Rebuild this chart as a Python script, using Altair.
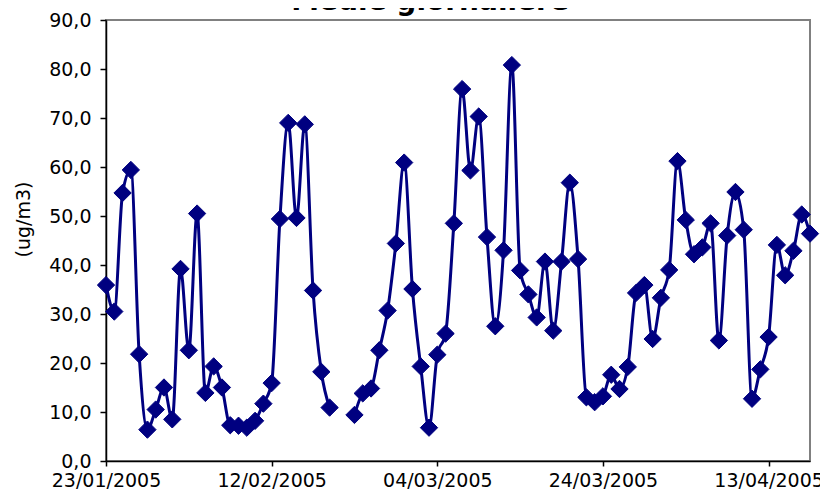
import altair as alt
import pandas as pd

title_text = "Medie giornaliere"
y_title = "(ug/m3)"
start_date = "2005-01-23"
end_date = "2005-04-18"
tick_dates = ["2005-01-23", "2005-02-12", "2005-03-04", "2005-03-24", "2005-04-13"]
y_ticks = [0, 10, 20, 30, 40, 50, 60, 70, 80, 90]

# daily means, 23/01/2005 .. 18/04/2005 (None = missing day)
values = [
    35.9, 30.5, 54.7, 59.4, 21.8, 6.4, 10.5, 15.0, 8.5,          # 23/01-31/01
    39.2, 22.6, 50.5, 13.9, 19.3, 15.0, 7.3, 7.2, 6.8, 8.2,      # 01/02-10/02
    11.7, 15.9, 49.4, 69.0, 49.6, 68.7, 34.8, 18.2, 10.9, None,  # 11/02-20/02
    None, 9.4, 13.8, 14.8, 22.6, 30.7, 44.4, 60.9,               # 21/02-28/02
    35.1, 19.3, 6.8, 21.7, 26.0, 48.5, 75.9, 59.3, 70.3, 45.7,   # 01/03-10/03
    27.5, 43.0, 80.8, 38.9, 34.0, 29.3, 40.7, 26.6, 40.7, 56.8,  # 11/03-20/03
    41.2, 13.0, 12.0, 13.2, 17.6, 14.7, 19.2, 34.3, 35.9, 24.9,  # 21/03-30/03
    33.3,                                                        # 31/03
    39.0, 61.2, 49.2, 42.2, 43.6, 48.5, 24.6, 46.0, 54.9, 47.2,  # 01/04-10/04
    12.7, 18.7, 25.3, 44.1, 37.9, 42.9, 50.3, 46.4,              # 11/04-18/04
]

dates = pd.date_range(start_date, end_date, freq="D").strftime("%Y-%m-%d").tolist()
seg = []
s = 0
for v in values:
    if v is None:
        s += 1
    seg.append(s)
df = pd.DataFrame({"date": dates, "value": values, "seg": seg}).dropna()

navy = "#000080"


def dt(sdate):
    y, m, d = (int(p) for p in sdate.split("-"))
    return alt.DateTime(year=y, month=m, date=d, utc=True)


x_enc = alt.X(
    "date:T",
    scale=alt.Scale(type="utc", domain=[dt(start_date), dt(end_date)]),
    axis=alt.Axis(
        values=[dt(t) for t in tick_dates],
        format="%d/%m/%Y",
        title=None,
        tickSize=5,
        labelPadding=5,
        labelFlush=False,
        labelOverlap=False,
        grid=False,
    ),
)
y_enc = alt.Y(
    "value:Q",
    scale=alt.Scale(domain=[0, 90], nice=False, zero=True),
    axis=alt.Axis(
        values=y_ticks,
        labelExpr="replace(format(datum.value, '.1f'), '.', ',')",
        title=y_title,
        titleAngle=270,
        titleX=-83,
        titleY=199,
        titleAlign="center",
        titleBaseline="middle",
        titleFontSize=19,
        titleFontWeight="normal",
        titleFont="DejaVu Sans",
        titleColor="black",
        tickSize=6,
        labelPadding=9,
        grid=False,
    ),
)

base = alt.Chart(df)
line = base.mark_line(color=navy, strokeWidth=3, interpolate="monotone").encode(
    x=x_enc, y=y_enc, detail="seg:N"
)
pts = base.mark_point(
    shape="diamond", filled=True, size=300, color=navy, opacity=1, stroke=navy, strokeWidth=1
).encode(x=x_enc, y=y_enc)

title = alt.Chart(pd.DataFrame({"t": [title_text]})).mark_text(
    font="DejaVu Sans", fontSize=28, fontWeight="bold", color="black",
    align="center", baseline="alphabetic"
).encode(x=alt.value(324), y=alt.value(-10), text="t:N")

chart = (
    alt.layer(line, pts, title)
    .properties(
        width=704,
        height=441,
        autosize=alt.AutoSizeParams(type="none"),
        padding={"left": 98, "top": 12, "right": 10, "bottom": 32},
        background="white",
    )
    .configure_view(stroke="#808080", strokeWidth=2)
    .configure_axis(
        domainColor="black",
        domainWidth=1.5,
        tickColor="black",
        tickWidth=1.5,
        labelFont="DejaVu Sans",
        labelFontSize=19,
        labelColor="black",
    )
)

chart.save("out.html", embed_options={"renderer": "svg", "actions": False})
